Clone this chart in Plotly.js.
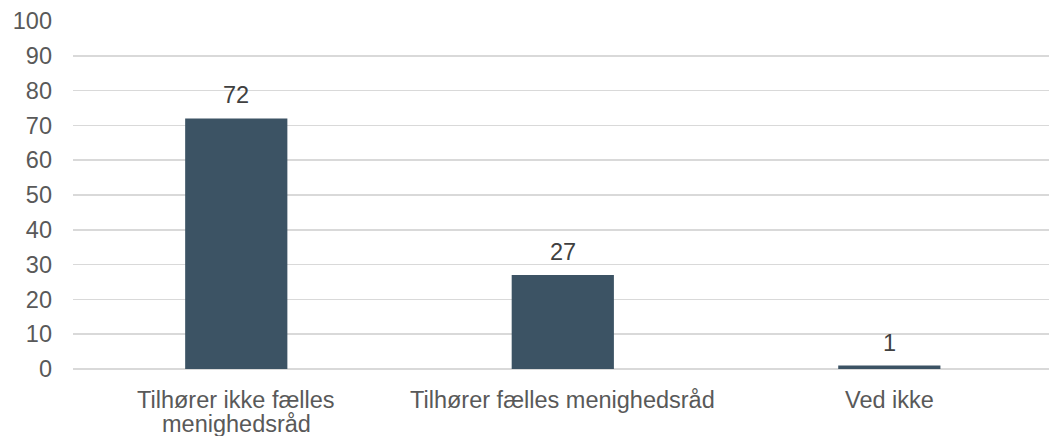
<!DOCTYPE html>
<html>
<head>
<meta charset="utf-8">
<script src="https://cdn.plot.ly/plotly-3.0.1.min.js"></script>
<style>html,body{margin:0;padding:0;background:#fff;overflow:hidden}#chart{width:1049px;height:436px}</style>
</head>
<body>
<div id="chart"></div>
<script>
const categories = ["Tilhører ikke fælles<br>menighedsråd", "Tilhører fælles menighedsråd", "Ved ikke"];
const values = [72, 27, 1];
const yTicks = [0, 10, 20, 30, 40, 50, 60, 70, 80, 90, 100];

const FONT = 'Liberation Sans, Arial, sans-serif';
const FS = 23.5;

const trace = {
  type: 'bar',
  x: categories,
  y: values,
  width: 0.313,
  marker: {color: '#3c5364'},
  hoverinfo: 'none'
};

const annotations = [];
categories.forEach((c, i) => {
  annotations.push({
    x: c, y: values[i], xref: 'x', yref: 'y',
    text: String(values[i]), showarrow: false,
    yanchor: 'bottom', yshift: 8,
    font: {family: FONT, size: FS, color: '#404040'}
  });
  c.split('<br>').forEach((line, k) => {
    annotations.push({
      x: c, y: 0, xref: 'x', yref: 'y',
      text: line, showarrow: false,
      yanchor: 'middle', yshift: -30.5 - 24 * k,
      font: {family: FONT, size: FS, color: '#595959'}
    });
  });
});

const layout = {
  width: 1049, height: 436,
  margin: {l: 73, r: 0, t: 21, b: 66.5},
  paper_bgcolor: '#fff', plot_bgcolor: '#fff',
  showlegend: false,
  font: {family: FONT, size: FS, color: '#595959'},
  xaxis: {
    type: 'category',
    range: [-0.5, 2.489],
    showgrid: false, zeroline: false, showline: false,
    ticks: '', showticklabels: false
  },
  yaxis: {
    range: [0, 100],
    tickvals: yTicks,
    ticktext: yTicks.map(String),
    showgrid: true, gridcolor: '#d9d9d9', gridwidth: 1.5,
    zeroline: true, zerolinecolor: '#d9d9d9', zerolinewidth: 1.5,
    showline: false,
    ticks: '', ticklabelstandoff: 20,
    tickfont: {family: FONT, size: FS, color: '#595959'}
  },
  annotations: annotations
};

Plotly.newPlot('chart', [trace], layout, {displayModeBar: false, staticPlot: true});
</script>
</body>
</html>
